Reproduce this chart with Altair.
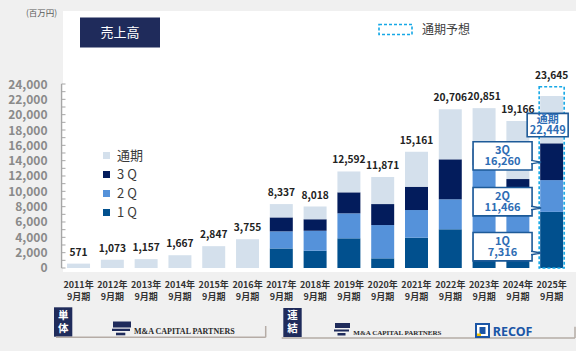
import altair as alt
import pandas as pd

FONT = "Noto Sans CJK JP"

# ---------------- data ----------------
years = ["2011年", "2012年", "2013年", "2014年", "2015年", "2016年", "2017年", "2018年",
         "2019年", "2020年", "2021年", "2022年", "2023年", "2024年", "2025年"]
period_suffix = "9月期"
full_year = [571, 1073, 1157, 1667, 2847, 3755, 8337, 8018, 12592, 11871, 15161,
             20706, 20851, 19166, 22449]
q1_cum = [None] * 6 + [2550, 2260, 3870, 1260, 3950, 5050, 3900, 3300, 7316]
q2_cum = [None] * 6 + [4780, 4870, 7130, 5600, 7560, 8960, 13400, 9400, 11466]
q3_cum = [None] * 6 + [6600, 6350, 9870, 8340, 10600, 14170, 15600, 11600, 16260]
forecast_year = "2025年"
forecast_full_year = 23645
y_tick_labels = list(range(0, 24001, 2000))
y_minor_ticks = list(range(0, 24001, 1000))
segment_names = ["通期", "3 Q", "2 Q", "1 Q"]
segment_colors = ["#d4e0ec", "#031c5c", "#5592da", "#01508e"]

# ---------------- tables ----------------
cats = [y + period_suffix for y in years]
rows = []
for c, fy, a, b, d in zip(cats, full_year, q1_cum, q2_cum, q3_cum):
    if a is None:
        rows.append(dict(cat=c, seg="通期", lo=0, hi=fy))
    else:
        rows += [dict(cat=c, seg="1 Q", lo=0, hi=a),
                 dict(cat=c, seg="2 Q", lo=a, hi=b),
                 dict(cat=c, seg="3 Q", lo=b, hi=d),
                 dict(cat=c, seg="通期", lo=d, hi=fy)]
bars_df = pd.DataFrame(rows)

fc_cat = forecast_year + period_suffix
fi = years.index(forecast_year)
label_vals = [forecast_full_year if c == fc_cat else v for c, v in zip(cats, full_year)]
labels_df = pd.DataFrame({"cat": cats, "val": label_vals,
                          "txt": [f"{v:,}" for v in label_vals]})
forecast_df = pd.DataFrame({"cat": [fc_cat], "lo": [0], "hi": [forecast_full_year]})

# callout layout (annotation placement, in value units)
prev_cat = years[fi - 1] + period_suffix
q_names = ["1Q", "2Q", "3Q"]
q_vals = [q1_cum[fi], q2_cum[fi], q3_cum[fi]]
q_centers = [2780, 8650, 14630]
HALF_Q = 1845
TIP_DROP = 820
callout_df = pd.DataFrame({
    "cat": [prev_cat] * 3,
    "tipcat": [fc_cat] * 3,
    "lo": [c - HALF_Q for c in q_centers],
    "hi": [c + HALF_Q for c in q_centers],
    "mid": q_centers,
    "tip": [c - TIP_DROP for c in q_centers],
    "txt": [f"{n}\n{v:,}" for n, v in zip(q_names, q_vals)],
})
fy_center = 18650
HALF_FY = 1525
fy_callout_df = pd.DataFrame({
    "cat": [fc_cat], "lo": [fy_center - HALF_FY], "hi": [fy_center + HALF_FY],
    "mid": [fy_center], "txt": [f"通期\n{full_year[fi]:,}"]})

ticks_df = pd.DataFrame({"v": y_minor_ticks})
axisline_df = pd.DataFrame({"lo": [y_tick_labels[0]], "hi": [y_tick_labels[-1]]})
one = pd.DataFrame({"k": [0]})

# ---------------- scales / axes ----------------
xscale = alt.Scale(domain=cats, paddingInner=0.32, paddingOuter=0.25, align=0.24, round=False)
xaxis = alt.Axis(labelExpr="[slice(datum.label, 0, 5), slice(datum.label, 5)]",
                 labelAngle=0, labelFontSize=9, labelFontWeight="bold", labelColor="#333333",
                 labelPadding=8.5, labelLineHeight=12, domain=False, ticks=False, tickSize=0,
                 title=None, labelFont=FONT)
yscale = alt.Scale(domain=[-522, 33522], nice=False, zero=False)
yaxis = alt.Axis(values=y_tick_labels, labelExpr="format(datum.value, ',')",
                 domain=False, ticks=False, tickSize=0,
                 grid=False, labelPadding=16, labelFontSize=12, labelFontWeight="bold",
                 labelColor="#8a8a8a", labelFont=FONT,
                 title="(百万円)", titleAngle=0, titleX=-22, titleY=1, titleAlign="center",
                 titleBaseline="middle", titleFontSize=8.5, titleFontWeight="normal",
                 titleColor="#595959", titleFont=FONT)


def X(f="cat"):
    return alt.X(f"{f}:N", scale=xscale, axis=xaxis, sort=cats, title=None)


def Y(f):
    return alt.Y(f"{f}:Q", scale=yscale, axis=yaxis, title="(百万円)")


def Y2(f):
    return alt.Y2(f"{f}:Q")


# ---------------- layers ----------------
bars = alt.Chart(bars_df).mark_bar().encode(
    x=X(), y=Y("lo"), y2=Y2("hi"),
    color=alt.Color("seg:N", scale=alt.Scale(domain=segment_names, range=segment_colors),
                    legend=alt.Legend(title=None, orient="none", legendX=37, legendY=138,
                                      symbolType="square", symbolSize=49, symbolStrokeWidth=0,
                                      symbolOpacity=1, labelFontSize=13, labelColor="#3a3a3a",
                                      labelFont=FONT, rowPadding=5, padding=0, labelOffset=4)),
)

forecast_box = alt.Chart(forecast_df).mark_bar(
    width=25, fill="transparent", stroke="#15a8e6", strokeDash=[3, 2], strokeWidth=1.6
).encode(x=X(), y=Y("lo"), y2=Y2("hi"))

value_labels = alt.Chart(labels_df).mark_text(
    dy=-11, baseline="middle", fontSize=10.2, fontWeight="bold", color="#222222", font=FONT
).encode(x=X(), y=Y("val"), text="txt:N")

axis_line = alt.Chart(axisline_df).mark_rule(color="#a6a6a6", strokeWidth=1.2).encode(
    x=alt.value(-1.5), y=Y("lo"), y2=Y2("hi"))
axis_ticks = alt.Chart(ticks_df).mark_rule(color="#a6a6a6", strokeWidth=1).encode(
    x=alt.value(-1.5), x2=alt.value(2.5), y=Y("v"))

CALL_STROKE = "#1d5a98"
CALL_TEXT = "#2e6db4"
q_boxes = alt.Chart(callout_df).mark_bar(
    width=59, xOffset=-15.3, fill="white", stroke=CALL_STROKE, strokeWidth=1.6
).encode(x=X(), y=Y("lo"), y2=Y2("hi"))
q_tails = alt.Chart(callout_df).mark_point(
    shape="M-1,-0.35L1,0L-1,0.35", size=100, filled=True, fill="white",
    stroke=CALL_STROKE, strokeWidth=1.5, opacity=1, xOffset=-15.6
).encode(x=X("tipcat"), y=Y("tip"))
q_texts = alt.Chart(callout_df).mark_text(
    lineBreak="\n", lineHeight=10.5, baseline="middle", dy=-4.5, fontSize=11,
    fontWeight="bold", color=CALL_TEXT, xOffset=-15.3, font=FONT
).encode(x=X(), y=Y("mid"), text="txt:N")

fy_box = alt.Chart(fy_callout_df).mark_bar(
    width=41, xOffset=-4, fill="white", stroke=CALL_STROKE, strokeWidth=1.6
).encode(x=X(), y=Y("lo"), y2=Y2("hi"))
fy_text = alt.Chart(fy_callout_df).mark_text(
    lineBreak="\n", lineHeight=10.5, baseline="middle", dy=-5, fontSize=11,
    fontWeight="bold", color=CALL_TEXT, xOffset=-4, font=FONT
).encode(x=X(), y=Y("mid"), text="txt:N")


# ---------------- decorations (pixel placed) ----------------
def rect_px(x, x2, y, y2, **style):
    return alt.Chart(one).mark_rect(**style).encode(
        x=alt.value(x), x2=alt.value(x2), y=alt.value(y), y2=alt.value(y2))


def text_px(x, y, txt, **style):
    return alt.Chart(one).mark_text(**style).encode(
        x=alt.value(x), y=alt.value(y), text=alt.value(txt))


def rule_px(x, x2, y, y2, **style):
    return alt.Chart(one).mark_rule(**style).encode(
        x=alt.value(x), x2=alt.value(x2), y=alt.value(y), y2=alt.value(y2))


NAVY = "#1f2b5b"
deco = [
    # title box
    rect_px(17, 97, 6.5, 36.5, color=NAVY),
    text_px(57, 21.5, "売上高", fontSize=13, color="white", align="center",
            baseline="middle", font=FONT),
    # forecast legend
    rect_px(316, 349, 13.5, 23.5, fill="transparent", stroke="#15a8e6",
            strokeDash=[3, 2], strokeWidth=1.6),
    text_px(359, 18.5, "通期予想", fontSize=12, color="#404040", align="left",
            baseline="middle", font=FONT),
    # 単体 block
    rect_px(-9, 9.3, 296.3, 325.7, color=NAVY),
    text_px(0.2, 304.5, "単\n体", lineBreak="\n", lineHeight=13, fontSize=10.5,
            fontWeight="bold", color="white", align="center", baseline="middle", font=FONT),
    rule_px(-7, 202.7, 326.3, 326.3, color="#b5aca6", strokeWidth=1.5),
    rule_px(202.7, 202.7, 315, 326.3, color="#b5aca6", strokeWidth=1.5),
    rect_px(50, 68, 310.5, 316.5, color=NAVY),
    rect_px(49, 67, 317.7, 320, color=NAVY),
    rect_px(53, 62.3, 321.7, 324.3, color=NAVY),
    text_px(71, 320.5, "M&A CAPITAL PARTNERS", fontSize=8, fontWeight="bold",
            font="Liberation Serif", color="#2b2b2b", align="left", baseline="middle"),
    # 連結 block
    rect_px(220.3, 238.7, 297, 326, color=NAVY),
    text_px(229.5, 305, "連\n結", lineBreak="\n", lineHeight=13, fontSize=10.5,
            fontWeight="bold", color="white", align="center", baseline="middle", font=FONT),
    rule_px(218.7, 512, 327, 327, color="#b5aca6", strokeWidth=1.5),
    rule_px(512, 512, 315.7, 327, color="#b5aca6", strokeWidth=1.5),
    rect_px(272, 287, 312, 317, color=NAVY),
    rect_px(271, 286, 318.5, 320.5, color=NAVY),
    rect_px(274.5, 282.5, 322, 324.5, color=NAVY),
    text_px(290.3, 322.3, "M&A CAPITAL PARTNERS", fontSize=7, fontWeight="bold",
            font="Liberation Serif", color="#2b2b2b", align="left", baseline="middle"),
    # RECOF logo
    rect_px(412, 427, 312, 327, color="#1b56a6"),
    rect_px(414, 425, 314, 325, color="white"),
    rect_px(416.5, 422.5, 316, 323, color="#1b56a6"),
    rect_px(414, 418, 322.5, 325, color="#f2c200"),
    text_px(429.7, 320.5, "RECOF", fontSize=12.5, fontWeight="bold", color="#1b56a6",
            align="left", baseline="middle", font="Noto Sans"),
]

chart = alt.layer(
    bars, forecast_box, value_labels, axis_line, axis_ticks,
    q_boxes, q_tails, q_texts, fy_box, fy_text, *deco
).properties(
    width=513, height=261,
    autosize=alt.AutoSizeParams(type="none"),
    padding={"left": 63, "top": 11, "right": 0, "bottom": 79},
).configure(background="#f0f0f0", font=FONT).configure_view(fill="white", strokeWidth=0)

chart.save("out.html", embed_options={"renderer": "svg", "actions": False})
